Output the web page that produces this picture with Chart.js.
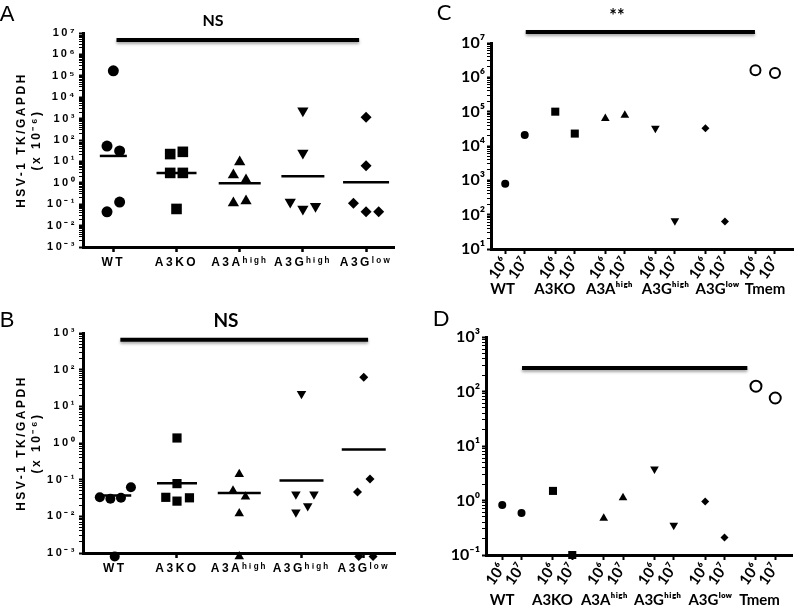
<!DOCTYPE html>
<html><head><meta charset="utf-8">
<script src="https://cdn.jsdelivr.net/npm/chart.js@4.4.1/dist/chart.umd.min.js"></script>
<style>
html,body{margin:0;padding:0;background:#fff;width:800px;height:615px;overflow:hidden;position:relative}
.p{position:absolute}
canvas{display:block}
</style></head><body>
<div class="p" style="left:0;top:0"><canvas id="cA" width="420" height="305"></canvas></div>
<div class="p" style="left:0;top:305px"><canvas id="cB" width="420" height="310"></canvas></div>
<div class="p" style="left:400px;top:0"><canvas id="cC" width="400" height="305"></canvas></div>
<div class="p" style="left:400px;top:305px"><canvas id="cD" width="400" height="310"></canvas></div>
<script>
// ---------------- DATA ----------------
const groupsAB = ['WT', 'A3KO', 'A3A', 'A3G', 'A3G'];
const groupSupAB = ['', '', 'high', 'high', 'low'];
const yTitleAB = ['HSV-1 TK/GAPDH', '(x 10⁻⁶)'];
const yExpA = [-3, -2, -1, 0, 1, 2, 3, 4, 5, 6, 7];
const yExpB = [-3, -2, -1, 0, 1, 2, 3];
const yExpC = [1, 2, 3, 4, 5, 6, 7];
const yExpD = [-1, 0, 1, 2, 3];

// Panel A: individual values per group and group line
const aValues = [
  [170000, 52, 31, 0.126, 0.044],
  [22, 28, 2.9, 2.9, 0.06],
  [9.3, 2.3, 1.35, 0.114, 0.14],
  [2300, 25, 0.126, 0.06, 0.08],
  [1170, 6.2, 0.11, 0.044, 0.044]
];
const aMeans = [18, 2.9, 0.95, 2.0, 1.05];

// Panel B
const bValues = [
  [0.033, 0.030, 0.032, 0.062, 0.0008],
  [1.37, 0.078, 0.033, 0.026, 0.032],
  [0.14, 0.05, 0.034, 0.012, 0.0008],
  [22, 0.04, 0.04, 0.019, 0.013],
  [62, 0.105, 0.046, 0.0008, 0.0008]
];
const bMeans = [0.037, 0.08, 0.043, 0.095, 0.66];

// Panels C, D
const groupsCD = ['WT', 'A3KO', 'A3A', 'A3G', 'A3G', 'Tmem'];
const groupSupCD = ['', '', 'high', 'high', 'low', ''];
const doseLabels = ['10⁶', '10⁷'];
const cDose6 = [800, 100000, 63000, 33000, 33000, 1600000];
const cDose7 = [21000, 23000, 79000, 66, 63, 1330000];
const dDose6 = [0.83, 1.5, 0.47, 3.8, 0.96, 125];
const dDose7 = [0.59, 0.1, 1.12, 0.35, 0.21, 76];

const sigLabels = ['NS', 'NS', '**', ''];
const panelLetters = ['A', 'B', 'C', 'D'];

// ---------------- LAYOUT / STYLE ----------------
const FONT_AB = "'Liberation Sans', Arial, sans-serif";
const FONT_CD = "Lato, 'Open Sans', sans-serif";
const aJitter = [[0,-0.1,0.1,0.1,-0.1],[-0.1,0.1,-0.1,0.1,0],[0,-0.1,0.1,-0.1,0.1],[0,0,-0.2,0,0.2],[0,0,-0.2,0,0.2]];
const bJitter = [[-0.24,-0.07,0.1,0.26,0],[0,0,-0.18,0,0.2],[0,-0.1,0.1,0,0],[0,-0.09,0.2,0.1,-0.09],[0,0.1,-0.1,-0.08,0.15]];
const markerStyles = [
  {style:'circle', rot:0}, {style:'rect', rot:0}, {style:'triangle', rot:0},
  {style:'triangle', rot:180}, {style:'rectRot', rot:0}, {style:'circle', rot:0, open:true}
];

function sup(s){
  const m={'0':'⁰','1':'¹','2':'²','3':'³','4':'⁴','5':'⁵','6':'⁶','7':'⁷','8':'⁸','9':'⁹','-':'⁻','h':'ʰ','i':'ⁱ','g':'ᵍ','l':'ˡ','o':'ᵒ','w':'ʷ'};
  return [...s].map(c=>m[c]||c).join('');
}
const labelsAB = groupsAB.map((g,i)=>g+sup(groupSupAB[i]));
const labelsCD = groupsCD.map((g,i)=>g+sup(groupSupCD[i]));
function isMajor(v){ const l=Math.log10(v); return Math.abs(l-Math.round(l))<1e-6; }
function logTicks(exps){
  const t=[];
  exps.forEach((e,i)=>{ t.push({value:Math.pow(10,e)}); if(i<exps.length-1){ for(let k=2;k<=9;k++) t.push({value:k*Math.pow(10,e)}); } });
  return t;
}
function expLabel(v){ return '10'+sup(String(Math.round(Math.log10(v)))); }

function makeDecor(cfg){
  return {
    id:'decor',
    beforeLayout(chart){ chart.ctx.letterSpacing = cfg.letterSpacing; },
    beforeDraw(chart){ chart.ctx.letterSpacing = cfg.letterSpacing; },
    beforeDatasetDraw(chart,args){
      if(chart.data.datasets[args.index].sigBar){ const c=chart.ctx; c.save(); c.shadowColor='rgba(0,0,0,0.35)'; c.shadowBlur=3; c.shadowOffsetY=2; }
    },
    afterDatasetDraw(chart,args){ if(chart.data.datasets[args.index].sigBar) chart.ctx.restore(); },
    afterDraw(chart){
      const c=chart.ctx; c.save(); c.letterSpacing='0px'; c.fillStyle='#000'; c.textBaseline='middle';
      for(const t of cfg.texts){
        c.font=t.font; c.textAlign=t.align||'center';
        c.fillText(t.text,t.x,t.y);
      }
      c.restore();
    }
  };
}

function pointDataset(points, st, radius){
  return {
    data: points, pointStyle: st.style, pointRotation: st.rot, pointRadius: radius, pointHoverRadius: radius,
    backgroundColor: st.open ? '#fff' : '#000', borderColor:'#000', pointBackgroundColor: st.open ? '#fff' : '#000',
    pointBorderColor:'#000', pointBorderWidth: st.open ? 2 : 0, showLine:false, clip:false
  };
}
function sigDataset(x0,x1,level,width){
  return { data:[{x:x0,y:level},{x:x1,y:level}], showLine:true, borderColor:'#000', borderWidth:width, pointRadius:0, pointHoverRadius:0, clip:false, sigBar:true, fill:false };
}
function yAxis(exps, width, font, tl, title){
  const ax = {
    type:'logarithmic', min:Math.pow(10,exps[0]), max:Math.pow(10,exps[exps.length-1]),
    afterBuildTicks: s=>{ s.ticks = logTicks(exps); },
    afterFit: s=>{ s.width = width; },
    ticks:{ autoSkip:false, font:font, color:'#000', padding:2, callback:(v)=> isMajor(v)? expLabel(v) : '' },
    grid:{ display:true, drawOnChartArea:false, drawTicks:true, tickLength:tl, tickColor:'#000', tickWidth: ctx => (ctx.tick && isMajor(ctx.tick.value)) ? 2 : 1 },
    border:{ display:true, color:'#000', width:3 }
  };
  if(title) ax.title = title;
  return ax;
}

// ---------------- PANELS A & B ----------------
function makeAB(id, values, jitter, means, meanHalf, radii, exps, xmin, xmax, pad, xh, sig, texts, ls, titleSize){
  const ds = values.map((vals,g)=> pointDataset(vals.map((v,i)=>({x:g+jitter[g][i], y:v})), markerStyles[g], radii[g]));
  ds.push({ data: means.map((m,g)=>({x:g,y:m})), pointStyle:'line', pointRadius: meanHalf, pointHoverRadius: meanHalf,
            pointBorderWidth:2.5, pointBorderColor:'#000', borderColor:'#000', showLine:false, clip:false });
  ds.push(sigDataset(sig[0], sig[1], sig[2], 4));
  new Chart(document.getElementById(id), {
    type:'scatter',
    data:{ datasets: ds },
    options:{
      responsive:false, animation:false, events:[],
      layout:{ padding: pad },
      plugins:{ legend:{display:false}, tooltip:{enabled:false} },
      scales:{
        x:{ type:'linear', min:xmin, max:xmax,
            afterBuildTicks: s=>{ s.ticks = groupsAB.map((_,i)=>({value:i})); },
            afterFit: s=>{ s.height = xh; },
            ticks:{ autoSkip:false, maxRotation:0, minRotation:0, font:{family:FONT_AB, size:12, weight:'bold'}, color:'#000', padding:3,
                    callback:(v)=> labelsAB[Math.round(v)] },
            grid:{ display:true, drawOnChartArea:false, drawTicks:true, tickLength:5, tickWidth:2.5, tickColor:'#000' },
            border:{ display:true, color:'#000', width:3 } },
        y: yAxis(exps, 83, {family:FONT_AB, size:11, weight:'bold'}, 4,
             { display:true, text: yTitleAB, color:'#000', font:{family:FONT_AB, size:titleSize, weight:'bold', lineHeight:1.25}, padding:{top:14.5, bottom:0} })
      }
    },
    plugins:[ makeDecor({letterSpacing: ls, texts}) ]
  });
}

makeAB('cA', aValues, aJitter, aMeans, [13.5,20,21,21.5,23], [5.5,7.5,6.5,6.5,5.5], yExpA, -0.48, 4.45,
  {left:0, top:33, right:20, bottom:0}, 58, [0.05, 3.89, 4.7e6],
  [ {text:panelLetters[0], x:7, y:15, font:"22px 'Liberation Sans', Arial, sans-serif"},
    {text:sigLabels[0], x:213, y:21, font:"bold 16px "+FONT_CD} ], '2.5px', 12);

makeAB('cB', bValues, bJitter, bMeans, [16.5,20,21.5,22,22], [5,6.5,5.5,5.5,4.5], yExpB, -0.51, 4.51,
  {left:0, top:28, right:3, bottom:0}, 62, [0.09, 4.07, 650],
  [ {text:panelLetters[1], x:7, y:16, font:"22px 'Liberation Sans', Arial, sans-serif"},
    {text:sigLabels[1], x:226, y:16, font:"bold 19px "+FONT_CD} ], '2.5px', 12);

// ---------------- PANELS C & D ----------------
function makeCD(id, dose6, dose7, sub, radii, openR, exps, xmin, xmax, pad, yw, xh, x2h, x2pad, labelPos, sig, texts){
  const ds = groupsCD.map((g,i)=> pointDataset([{x:i, y:dose6[i]}, {x:i+sub, y:dose7[i]}], markerStyles[i], i===5?openR:radii[i]));
  ds.push(sigDataset(sig[0], sig[1], sig[2], 4));
  const tickPos = [];
  groupsCD.forEach((g,i)=>{ tickPos.push(i); tickPos.push(i+sub); });
  new Chart(document.getElementById(id), {
    type:'scatter',
    data:{ datasets: ds },
    options:{
      responsive:false, animation:false, events:[],
      layout:{ padding: pad },
      plugins:{ legend:{display:false}, tooltip:{enabled:false} },
      scales:{
        x:{ type:'linear', min:xmin, max:xmax, weight:0,
            afterBuildTicks: s=>{ s.ticks = tickPos.map(v=>({value:v})); },
            afterCalculateLabelRotation: s=>{ s.labelRotation = 55; },
            afterFit: s=>{ s.height = xh; },
            ticks:{ autoSkip:false, maxRotation:55, minRotation:55, font:{family:FONT_CD, size:15, weight:'bold'}, color:'#000', padding:0,
                    callback:(v,i)=> doseLabels[i%2] },
            grid:{ display:true, drawOnChartArea:false, drawTicks:true, tickLength:5, tickWidth:2, tickColor:'#000' },
            border:{ display:true, color:'#000', width:3 } },
        x2:{ type:'linear', position:'bottom', min:xmin, max:xmax, weight:1,
            afterBuildTicks: s=>{ s.ticks = labelPos.map(v=>({value:v})); },
            afterFit: s=>{ s.height = x2h; },
            ticks:{ autoSkip:false, maxRotation:0, minRotation:0, font:{family:FONT_CD, size:15, weight:'bold'}, color:'#000', padding:x2pad,
                    callback:(v,i)=> labelsCD[i] },
            grid:{ display:false, drawTicks:false }, border:{ display:false } },
        y: yAxis(exps, yw, {family:FONT_CD, size:16, weight:'bold'}, 4, null)
      }
    },
    plugins:[ makeDecor({letterSpacing:'0px', texts}) ]
  });
}

makeCD('cC', cDose6, cDose7, 0.39, [4,5.7,5,5,4], 5, yExpC, -0.284, 5.75,
  {left:0, top:43, right:5, bottom:0}, 91, 30, 26, 1, [-0.05, 0.99, 2.08, 3.2, 4.24, 5.19], [0.41, 4.99, 2.1e7],
  [ {text:panelLetters[2], x:44, y:13, font:"22px "+FONT_CD},
    {text:sigLabels[2], x:217, y:16, font:"bold 18px "+FONT_CD} ]);

makeCD('cD', dDose6, dDose7, 0.38, [4,5.7,5,5,4], 5.5, yExpD, -0.32, 5.72,
  {left:0, top:32, right:0, bottom:0}, 86, 33, 27, 3, [0, 0.99, 2.01, 3.06, 4.1, 5.07], [0.39, 4.83, 270],
  [ {text:panelLetters[3], x:41, y:14, font:"22px "+FONT_CD} ]);
</script>
</body></html>
